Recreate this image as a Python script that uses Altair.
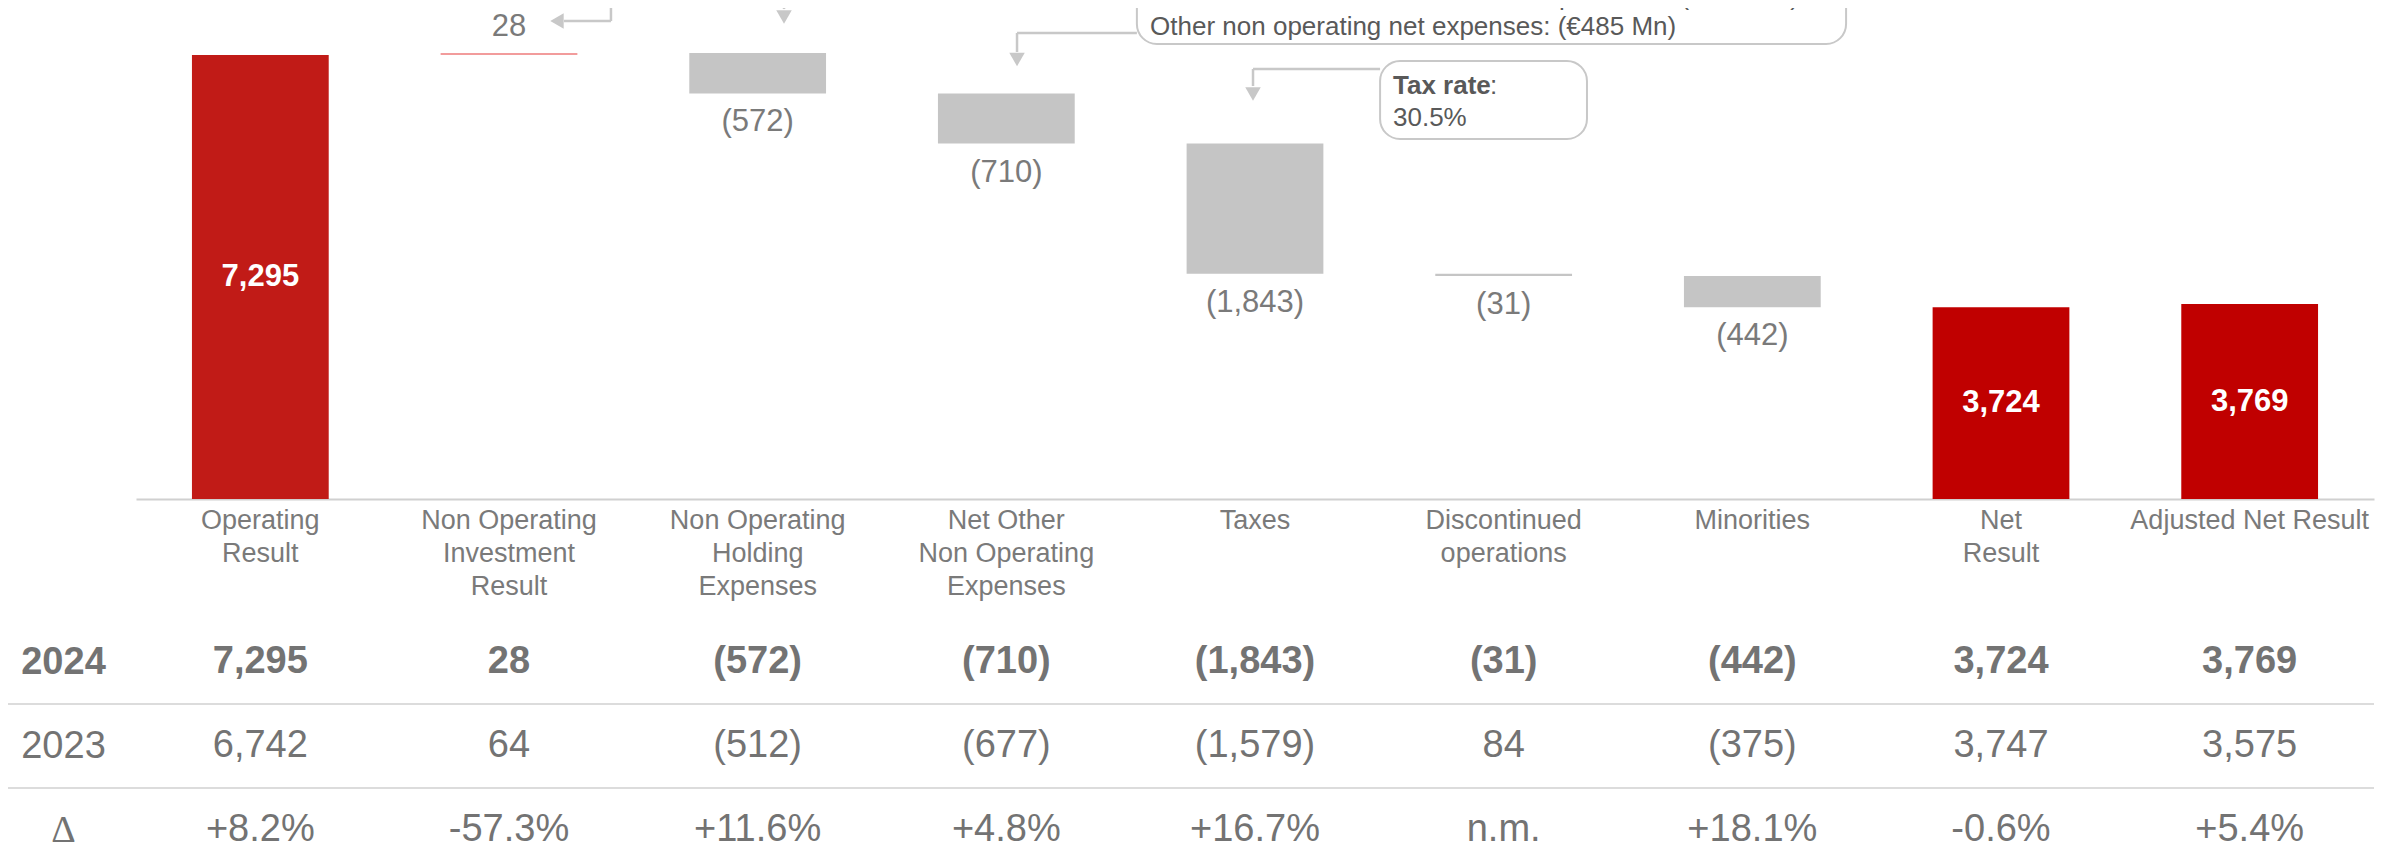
import altair as alt
import pandas as pd

# ---------------- data ----------------
categories = ["Operating|Result", "Non Operating|Investment|Result", "Non Operating|Holding|Expenses",
              "Net Other|Non Operating|Expenses", "Taxes", "Discontinued|operations", "Minorities",
              "Net|Result", "Adjusted Net Result"]
kinds = ["total", "delta", "delta", "delta", "delta", "delta", "delta", "result", "result"]
values_2024 = [7295, 28, -572, -710, -1843, -31, -442, 3724, 3769]
values_2023 = [6742, 64, -512, -677, -1579, 84, -375, 3747, 3575]
delta_pct = ["+8.2%", "-57.3%", "+11.6%", "+4.8%", "+16.7%", "n.m.", "+18.1%", "-0.6%", "+5.4%"]
row_names = ["2024", "2023", "Δ"]
tax_rate = "30.5%"
note_lines = ["combinations and bancassurance operations: (€124 Mn)",
              "Other non operating net expenses: (€485 Mn)"]

# ---------------- layout / style ----------------
W, H = 2238, 491
Y_MIN, Y_MAX = 1008, 7961          # visible value range of the (truncated) axis
GREY_TXT = "#7a7a7a"
TBL_TXT = "#737373"
DARK_TXT = "#595959"
FONT = "Liberation Sans"
LINE = "#c8c8c8"


def fmt(v):
    return f"{v:,}" if v >= 0 else f"({-v:,})"


# waterfall
rows = []
running = 0
for c, k, v in zip(categories, kinds, values_2024):
    if k in ("total", "result"):
        start, end = 0, v
        running = v
        col = k
    else:
        start, end = running, running + v
        running = end
        col = "up" if v > 0 else "down"
    rows.append(dict(cat=c, start=start, end=end, kind=col, label=fmt(v),
                     mid=(end + Y_MIN) / 2, sign=("pos" if v > 0 else "neg")))
wf = pd.DataFrame(rows)

table = pd.DataFrame(
    [dict(cat=c, row="2024", text=fmt(a)) for c, a in zip(categories, values_2024)]
    + [dict(cat=c, row="2023", text=fmt(b)) for c, b in zip(categories, values_2023)]
    + [dict(cat=c, row="Δ", text=d) for c, d in zip(categories, delta_pct)]
)
row_keys = ["2024", "s1", "2023", "s2", "Δ"]
seps = pd.DataFrame(dict(row=["s1", "s2"]))

# annotation geometry in (slot, value) units
ann_lines = pd.DataFrame(dict(
    x=[1.910, 1.910, 2.606, 4.025, 3.543, 5.003, 4.492],
    x2=[1.910, 1.721, 2.606, 3.543, 3.543, 4.492, 4.492],
    y=[8357, 7776, 8357, 7607, 7607, 7097, 7097],
    y2=[7776, 7776, 7946, 7607, 7338, 7097, 6856],
))
ann_heads = pd.DataFrame(dict(
    x=[1.693, 2.606, 3.543, 4.492],
    y=[7776, 7833, 7232, 6743],
    shape=["triangle-left", "triangle-down", "triangle-down", "triangle-down"],
))
ann_boxes = pd.DataFrame(dict(x=[4.025, 5.003], x2=[6.877, 5.835], y=[8923, 7210], y2=[7451, 6106]))
ann_note = pd.DataFrame(dict(x=[4.078, 4.078], y=[8116, 7692], text=note_lines))
ann_tax_b = pd.DataFrame(dict(x=[5.055], y=[6856], text=["Tax rate"]))
ann_tax_c = pd.DataFrame(dict(x=[5.445], y=[6856], text=[":"]))
ann_tax_v = pd.DataFrame(dict(x=[5.055], y=[6403], text=[tax_rate]))

# ---------------- scales ----------------
xband = alt.Scale(domain=categories, paddingInner=0.45, paddingOuter=0.225)
xpoint = alt.Scale(domain=categories, type="point", padding=0.5)
yval = alt.Scale(domain=[Y_MIN, Y_MAX], nice=False, zero=False)
xslot = alt.Scale(domain=[0, 9], nice=False, zero=False)
yrow = alt.Scale(domain=row_keys, type="point", range=[654, 822], padding=0)

# ---------------- layers ----------------
bars = alt.Chart(wf).mark_bar(clip=True).encode(
    x=alt.X("cat:N", scale=xband, sort=categories, title=None,
            axis=alt.Axis(labelExpr="split(datum.value, '|')", labelFontSize=27, labelColor=GREY_TXT,
                          labelFont=FONT, labelLineHeight=33, labelPadding=8, ticks=False,
                          domainColor="#d0d0d0", domainWidth=2, labelAngle=0, grid=False,
                          labelLimit=400, orient="bottom")),
    y=alt.Y("end:Q", scale=yval, axis=None),
    y2="start:Q",
    color=alt.Color("kind:N", legend=None,
                    scale=alt.Scale(domain=["total", "up", "down", "result"],
                                    range=["#c11b17", "#f29c9c", "#c5c5c5", "#c00000"])),
)

total_lbl = alt.Chart(wf).transform_filter("datum.kind == 'total' || datum.kind == 'result'").mark_text(
    font=FONT, fontSize=31, fontWeight="bold", color="white", baseline="middle"
).encode(
    x=alt.X("cat:N", scale=xpoint, axis=None),
    y=alt.Y("mid:Q", scale=yval, axis=None),
    text="label:N",
)

neg_lbl = alt.Chart(wf).transform_filter("(datum.kind == 'up' || datum.kind == 'down') && datum.sign == 'neg'").mark_text(
    font=FONT, fontSize=31, color=GREY_TXT, baseline="middle", dy=29
).encode(
    x=alt.X("cat:N", scale=xpoint, axis=None),
    y=alt.Y("end:Q", scale=yval, axis=None),
    text="label:N",
)

pos_lbl = alt.Chart(wf).transform_filter("(datum.kind == 'up' || datum.kind == 'down') && datum.sign == 'pos'").mark_text(
    font=FONT, fontSize=31, color=GREY_TXT, baseline="middle", dy=-26
).encode(
    x=alt.X("cat:N", scale=xpoint, axis=None),
    y=alt.Y("end:Q", scale=yval, axis=None),
    text="label:N",
)

tbl_bold = alt.Chart(table).transform_filter("datum.row == '2024'").mark_text(
    font=FONT, fontSize=38, fontWeight="bold", color=TBL_TXT, baseline="middle"
).encode(
    x=alt.X("cat:N", scale=xpoint, axis=None),
    y=alt.Y("row:N", scale=yrow, axis=alt.Axis(
        orient="left", values=row_names, title=None, ticks=False, domain=False, grid=False,
        labelPadding=73, labelAlign="center", labelBaseline="middle", labelFontSize=38,
        labelColor=TBL_TXT,
        labelFont={"condition": {"test": "datum.value === 'Δ'", "value": "Liberation Serif"}, "value": FONT},
        labelFontWeight={"condition": {"test": "datum.value === '2024'", "value": "bold"}, "value": "normal"},
    )),
    text="text:N",
)

tbl_reg = alt.Chart(table).transform_filter("datum.row != '2024'").mark_text(
    font=FONT, fontSize=38, color=TBL_TXT, baseline="middle"
).encode(
    x=alt.X("cat:N", scale=xpoint, axis=None),
    y=alt.Y("row:N", scale=yrow, axis=None),
    text="text:N",
)

sep_rules = alt.Chart(seps).mark_rule(color="#dcdcdc", strokeWidth=2).encode(
    y=alt.Y("row:N", scale=yrow, axis=None),
    x=alt.value(-136),
    x2=alt.value(W),
)

a_lines = alt.Chart(ann_lines).mark_rule(color=LINE, strokeWidth=2.5).encode(
    x=alt.X("x:Q", scale=xslot, axis=None), x2="x2:Q",
    y=alt.Y("y:Q", scale=yval, axis=None), y2="y2:Q",
)
a_heads = alt.Chart(ann_heads).mark_point(filled=True, size=240, color=LINE, opacity=1).encode(
    x=alt.X("x:Q", scale=xslot, axis=None),
    y=alt.Y("y:Q", scale=yval, axis=None),
    shape=alt.Shape("shape:N", scale=None, legend=None),
)
a_boxes = alt.Chart(ann_boxes).mark_rect(fill="white", stroke=LINE, strokeWidth=2, cornerRadius=20).encode(
    x=alt.X("x:Q", scale=xslot, axis=None), x2="x2:Q",
    y=alt.Y("y:Q", scale=yval, axis=None), y2="y2:Q",
)
a_note = alt.Chart(ann_note).mark_text(font=FONT, fontSize=26, color=DARK_TXT, align="left", baseline="middle").encode(
    x=alt.X("x:Q", scale=xslot, axis=None), y=alt.Y("y:Q", scale=yval, axis=None), text="text:N")
a_tax_b = alt.Chart(ann_tax_b).mark_text(font=FONT, fontSize=26, fontWeight="bold", color=DARK_TXT, align="left", baseline="middle").encode(
    x=alt.X("x:Q", scale=xslot, axis=None), y=alt.Y("y:Q", scale=yval, axis=None), text="text:N")
a_tax_c = alt.Chart(ann_tax_c).mark_text(font=FONT, fontSize=26, color=DARK_TXT, align="left", baseline="middle").encode(
    x=alt.X("x:Q", scale=xslot, axis=None), y=alt.Y("y:Q", scale=yval, axis=None), text="text:N")
a_tax_v = alt.Chart(ann_tax_v).mark_text(font=FONT, fontSize=26, color=DARK_TXT, align="left", baseline="middle").encode(
    x=alt.X("x:Q", scale=xslot, axis=None), y=alt.Y("y:Q", scale=yval, axis=None), text="text:N")

chart = alt.layer(
    sep_rules, bars, total_lbl, neg_lbl, pos_lbl, tbl_bold, tbl_reg,
    a_lines, a_heads, a_boxes, a_note, a_tax_b, a_tax_c, a_tax_v,
).resolve_scale(
    x="independent", y="independent"
).properties(
    width=W, height=H,
    autosize=alt.AutoSizeParams(type="none"),
    padding={"left": 128, "top": 0, "right": 18, "bottom": 350},
    background="white",
).configure_view(stroke=None)

chart.save("out.html", embed_options={"renderer": "svg", "actions": False})
